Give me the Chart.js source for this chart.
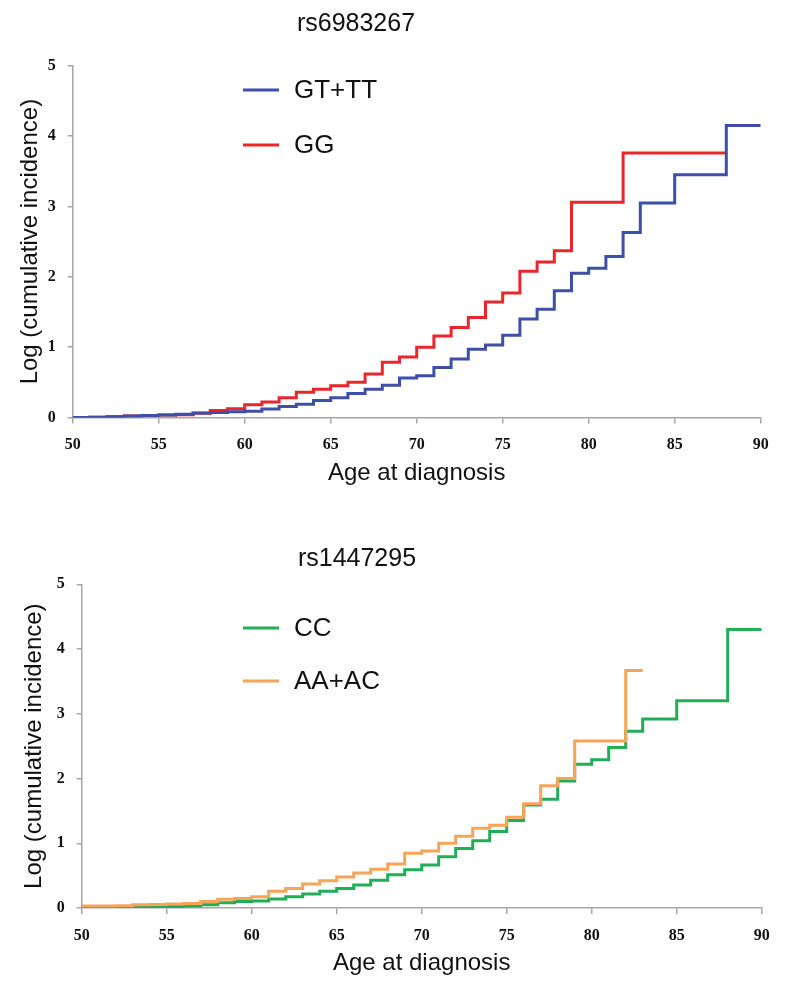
<!DOCTYPE html>
<html>
<head>
<meta charset="utf-8">
<title>Log cumulative incidence by age</title>
<script src="https://cdn.jsdelivr.net/npm/chart.js@4.4.1/dist/chart.umd.min.js"></script>
<style>
  html, body { margin: 0; padding: 0; background: #ffffff; }
  .panel { position: absolute; left: 0; width: 788px; height: 496px; }
</style>
</head>
<body>
<div class="panel" style="top:0"><canvas id="chartTop" width="788" height="496"></canvas></div>
<div class="panel" style="top:496px"><canvas id="chartBottom" width="788" height="496"></canvas></div>

<script>
// ===============================================
// DATA - values
// ===============================================
const xTicks = [50, 55, 60, 65, 70, 75, 80, 85, 90];
const yTicks = [0, 1, 2, 3, 4, 5];

// rs6983267
const agesGtTt = [50, 51, 52, 53, 54, 55, 56, 57, 58, 59, 60, 61, 62, 63, 64, 65, 66, 67, 68, 69,
  70, 71, 72, 73, 74, 75, 76, 77, 78, 79, 80, 81, 82, 83, 85, 88, 90];
const valuesGtTt = [0.0, 0.005, 0.01, 0.02, 0.03, 0.035, 0.045, 0.065, 0.07, 0.08, 0.09, 0.12, 0.155, 0.19, 0.24, 0.28, 0.34, 0.40, 0.46, 0.56,
  0.595, 0.71, 0.83, 0.97, 1.03, 1.17, 1.40, 1.54, 1.80, 2.05, 2.12, 2.29, 2.63, 3.05, 3.45, 4.15, 4.15];

const agesGG = [50, 51, 52, 53, 54, 55, 56, 57, 58, 59, 60, 61, 62, 63, 64, 65, 66, 67, 68, 69,
  70, 71, 72, 73, 74, 75, 76, 77, 78, 79, 82, 88];
const valuesGG = [0.0, 0.005, 0.01, 0.02, 0.03, 0.035, 0.04, 0.06, 0.10, 0.125, 0.18, 0.22, 0.28, 0.36, 0.40, 0.45, 0.50, 0.62, 0.785, 0.86,
  1.00, 1.16, 1.28, 1.42, 1.64, 1.77, 2.08, 2.21, 2.37, 3.06, 3.76, 3.76];

// rs1447295
const agesCC = [50, 51, 52, 53, 54, 55, 56, 57, 58, 59, 60, 61, 62, 63, 64, 65, 66, 67, 68, 69,
  70, 71, 72, 73, 74, 75, 76, 77, 78, 79, 80, 81, 82, 83, 85, 88, 90];
const valuesCC = [0.0, 0.005, 0.01, 0.015, 0.02, 0.025, 0.03, 0.05, 0.08, 0.10, 0.11, 0.14, 0.175, 0.215, 0.26, 0.30, 0.355, 0.43, 0.515, 0.59,
  0.665, 0.79, 0.92, 1.04, 1.18, 1.35, 1.59, 1.68, 1.96, 2.22, 2.29, 2.48, 2.73, 2.92, 3.20, 4.30, 4.30];

const agesAaAc = [50, 52, 53, 54, 55, 56, 57, 58, 59, 60, 61, 62, 63, 64, 65, 66, 67, 68, 69,
  70, 71, 72, 73, 74, 75, 76, 77, 78, 79, 82, 83];
const valuesAaAc = [0.03, 0.035, 0.05, 0.055, 0.06, 0.07, 0.10, 0.135, 0.145, 0.175, 0.26, 0.30, 0.37, 0.42, 0.48, 0.54, 0.60, 0.68, 0.845,
  0.88, 1.00, 1.11, 1.23, 1.28, 1.40, 1.61, 1.89, 2.00, 2.58, 3.67, 3.67];

// ===============================================
// STYLE
// ===============================================
const SANS = '"Liberation Sans", Arial, sans-serif';
const SERIF = '"Liberation Serif", "Times New Roman", serif';
const AXIS_GREY = '#a6a6a6';

const toPoints = (xs, ys) => xs.map((x, i) => ({ x, y: ys[i] }));

// ===============================================
// PLUGIN: title + legend drawn inside the panel
// ===============================================
const headerPlugin = {
  id: 'header',
  afterDraw(chart, args, opts) {
    const ctx = chart.ctx;
    ctx.save();
    ctx.textBaseline = 'middle';
    ctx.fillStyle = '#111111';

    ctx.font = `25px ${SANS}`;
    ctx.textAlign = 'center';
    ctx.fillText(opts.title, opts.titleX, opts.titleY);

    ctx.font = `26px ${SANS}`;
    ctx.textAlign = 'left';
    opts.items.forEach((idx, row) => {
      const ds = chart.data.datasets[idx];
      const y = opts.legendY + row * opts.legendGap;
      ctx.strokeStyle = ds.borderColor;
      ctx.lineWidth = 3;
      ctx.beginPath();
      ctx.moveTo(opts.legendX, y);
      ctx.lineTo(opts.legendX + 36, y);
      ctx.stroke();
      ctx.fillStyle = '#111111';
      ctx.fillText(ds.label, opts.legendX + 51, y + 1);
    });
    ctx.restore();
  }
};

// ===============================================
// HELPER: build one step chart
// ===============================================
function makeStepChart(canvasId, datasets, layout, header) {
  const ctx = document.getElementById(canvasId).getContext('2d');

  return new Chart(ctx, {
    type: 'line',
    data: { datasets },
    plugins: [headerPlugin],
    options: {
      responsive: false,
      animation: false,
      layout: {
        padding: { top: layout.top, right: layout.right, left: 0, bottom: 0 }
      },
      elements: {
        point: { radius: 0 },
        line: { borderWidth: 3, stepped: 'before', tension: 0 }
      },
      plugins: {
        legend: { display: false },
        title: { display: false },
        tooltip: { enabled: false },
        header
      },
      scales: {
        x: {
          type: 'linear',
          min: 50,
          max: 90,
          afterFit: (scale) => { scale.height = layout.xHeight; },
          afterBuildTicks: (scale) => { scale.ticks = xTicks.map(v => ({ value: v })); },
          grid: { display: true, drawOnChartArea: false, drawTicks: true, tickLength: 6, color: AXIS_GREY, lineWidth: 1.5 },
          border: { display: true, color: AXIS_GREY, width: 1.5 },
          ticks: { padding: 12, color: '#111111', font: { family: SERIF, size: 16, weight: 'bold' } },
          title: {
            display: true,
            text: 'Age at diagnosis',
            color: '#111111',
            font: { family: SANS, size: 24 },
            padding: { top: 0, bottom: layout.xTitlePad }
          }
        },
        y: {
          min: 0,
          max: 5,
          afterFit: (scale) => { scale.width = layout.yWidth; },
          afterBuildTicks: (scale) => { scale.ticks = yTicks.map(v => ({ value: v })); },
          grid: { display: true, drawOnChartArea: false, drawTicks: true, tickLength: 5, color: AXIS_GREY, lineWidth: 1.5 },
          border: { display: true, color: AXIS_GREY, width: 1.5 },
          ticks: { padding: 12, color: '#111111', font: { family: SERIF, size: 16, weight: 'bold' } },
          title: {
            display: true,
            text: 'Log (cumulative incidence)',
            color: '#111111',
            font: { family: SANS, size: 24 },
            padding: { top: layout.yTitlePad, bottom: 0 }
          }
        }
      }
    }
  });
}

// ===============================================
// TOP: rs6983267
// ===============================================
makeStepChart('chartTop', [
  { label: 'GT+TT', data: toPoints(agesGtTt, valuesGtTt), borderColor: '#3d4fa6', order: 0 },
  { label: 'GG', data: toPoints(agesGG, valuesGG), borderColor: '#e8262b', order: 1 }
], { top: 65.7, right: 27.3, yWidth: 72.7, xHeight: 78.5, xTitlePad: 8.6, yTitlePad: 15.6 },
{ title: 'rs6983267', titleX: 356, titleY: 24, legendX: 243, legendY: 90, legendGap: 55, items: [0, 1] });

// ===============================================
// BOTTOM: rs1447295
// ===============================================
makeStepChart('chartBottom', [
  { label: 'CC', data: toPoints(agesCC, valuesCC), borderColor: '#22ad59', order: 1 },
  { label: 'AA+AC', data: toPoints(agesAaAc, valuesAaAc), borderColor: '#f6a457', order: 0 }
], { top: 88.3, right: 26.3, yWidth: 81.7, xHeight: 84, xTitlePad: 14.6, yTitlePad: 19.6 },
{ title: 'rs1447295', titleX: 357, titleY: 63, legendX: 243, legendY: 132, legendGap: 53, items: [0, 1] });
</script>
</body>
</html>
